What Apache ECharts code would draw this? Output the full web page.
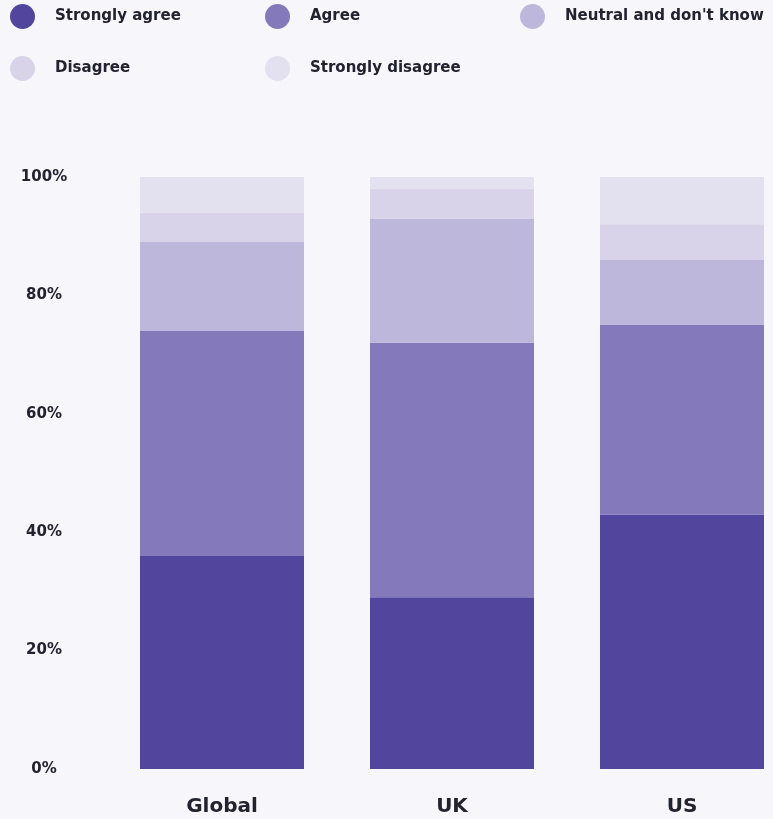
<!DOCTYPE html>
<html>
<head>
<meta charset="utf-8">
<script src="https://cdn.jsdelivr.net/npm/echarts@6/dist/echarts.min.js"></script>
<style>
  html, body { margin: 0; padding: 0; background: #f7f6fb; }
  #chart { width: 773px; height: 819px; }
</style>
</head>
<body>
<div id="chart"></div>
<script>
// categories and tick labels
const categories = ['Global', 'UK', 'US']
const yTicks = [0, 20, 40, 60, 80, 100]

// series values (% of respondents)
const seriesNames = ['Strongly agree', 'Agree', "Neutral and don't know", 'Disagree', 'Strongly disagree']
const stronglyAgree = [36, 29, 43]
const agree = [38, 43, 32]
const neutral = [15, 21, 11]
const disagree = [5, 5, 6]
const stronglyDisagree = [6, 2, 8]

const COLORS = ['#51459e', '#8379bb', '#bdb7db', '#d8d3e8', '#e3e0ef']
const TEXT = '#23222f'
const FONT = '"DejaVu Sans", sans-serif'

// legend slots, laid out as in the original (two rows)
const legendPos = [
  { left: 10, top: 4 },
  { left: 265, top: 4 },
  { left: 520, top: 4 },
  { left: 10, top: 56 },
  { left: 265, top: 56 },
]

const values = [stronglyAgree, agree, neutral, disagree, stronglyDisagree]

const chart = echarts.init(document.getElementById('chart'))
chart.setOption({
  backgroundColor: '#f7f6fb',
  animation: false,
  legend: seriesNames.map((name, i) => ({
    data: [name],
    left: legendPos[i].left,
    top: legendPos[i].top,
    padding: 0,
    icon: 'circle',
    itemWidth: 25,
    itemHeight: 25,
    itemGap: 0,
    selectedMode: false,
    textStyle: { color: TEXT, fontFamily: FONT, fontWeight: 'bold', fontSize: 15, padding: [0, 0, 0, 15] },
  })),
  grid: { left: 107, width: 690, top: 177, bottom: 50, outerBoundsMode: 'none' },
  xAxis: {
    type: 'category',
    data: categories,
    axisLine: { show: false },
    axisTick: { show: false },
    axisLabel: { color: TEXT, fontFamily: FONT, fontWeight: 'bold', fontSize: 20, margin: 28 },
  },
  yAxis: {
    type: 'value',
    min: 0,
    max: 100,
    interval: 20,
    splitLine: { show: false },
    axisLine: { show: false },
    axisTick: { show: false },
    axisLabel: {
      color: TEXT, fontFamily: FONT, fontWeight: 'bold', fontSize: 15,
      align: 'center', margin: 63,
      formatter: (v) => yTicks.includes(v) ? v + '%' : '',
    },
  },
  series: seriesNames.map((name, i) => ({
    name,
    type: 'bar',
    stack: 'total',
    barWidth: 164,
    data: values[i],
    itemStyle: { color: COLORS[i] },
  })),
})
</script>
</body>
</html>
